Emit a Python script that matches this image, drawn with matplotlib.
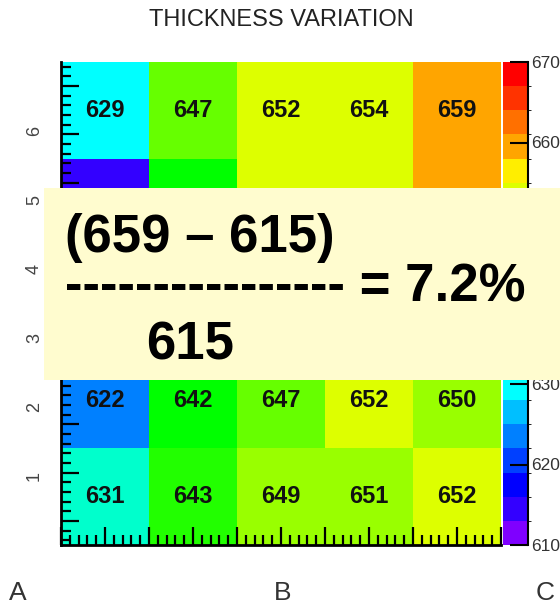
import matplotlib
matplotlib.use('Agg')
import matplotlib.pyplot as plt
import numpy as np
from matplotlib.colors import ListedColormap, BoundaryNorm
from matplotlib.patches import Rectangle
from matplotlib.ticker import FixedLocator, MultipleLocator

plt.rcParams['font.family'] = ['Liberation Sans', 'DejaVu Sans']

# thickness per cell, bottom row first
row1 = [631, 643, 649, 651, 652]
row2 = [622, 642, 647, 652, 650]
row3 = [620, 639, 648, 650, 651]
row4 = [615, 641, 653, 654, 658]
row5 = [629, 647, 652, 654, 659]
rows = [row1, row2, row3, row4, row5]
labelled = [0, 1, 4]  # rows 3 and 4 sit under the note box

y_labels = [1, 2, 3, 4, 5, 6]
cbar_ticks = [610, 620, 630, 640, 650, 660, 670]
levels = np.arange(610, 671, 3)
palette = ['#7f00ff', '#3300ff', '#0000ff', '#0040ff', '#0080ff',
           '#00bfff', '#00ffff', '#00ffcc', '#00ff80', '#00ff40',
           '#00ff00', '#22ff00', '#66ff00', '#99ff00', '#ddff00',
           '#ffee00', '#ffa500', '#ff7000', '#ff3300', '#ff0000']

W, H = 560, 604
fig = plt.figure(figsize=(W / 100, H / 100), dpi=100)

def px(x0, y0, w, h):
    return [x0 / W, 1 - (y0 + h) / H, w / W, h / H]

ax = fig.add_axes(px(61, 62, 440, 483))
cax = fig.add_axes(px(503, 62, 25, 483))

cmap = ListedColormap(palette)
norm = BoundaryNorm(levels, cmap.N)

z = np.array(rows)
xe = np.arange(z.shape[1] + 1)
ye = np.linspace(0, 7, z.shape[0] + 1)
mesh = ax.pcolormesh(xe, ye, z, cmap=cmap, norm=norm)

for i in labelled:
    for j, v in enumerate(rows[i]):
        ax.text(j + 0.5, (ye[i] + ye[i + 1]) / 2, str(v), ha='center', va='center',
                fontsize=17, fontweight='bold', color='#111111')

ax.set_xlim(0, 5)
ax.set_ylim(0, 7)
for s in ('top', 'right'):
    ax.spines[s].set_visible(False)
for s in ('left', 'bottom'):
    ax.spines[s].set_linewidth(2)

ax.xaxis.set_major_locator(MultipleLocator(0.5))
ax.xaxis.set_minor_locator(MultipleLocator(0.1))
ax.yaxis.set_major_locator(FixedLocator(np.arange(0.35, 7, 0.7)))
ax.yaxis.set_minor_locator(FixedLocator(np.arange(0.07, 7, 0.14)))
ax.tick_params(which='major', direction='in', length=13, width=1.6,
               labelbottom=False, labelleft=False)
ax.tick_params(which='minor', direction='in', length=7, width=1.6)

ylab = ax.secondary_yaxis('left')
ylab.set_yticks(y_labels)
ylab.tick_params(length=0, pad=13, labelsize=13, labelcolor='#444444')
for t in ylab.get_yticklabels():
    t.set_rotation(90)
    t.set_va('center')
ylab.spines['left'].set_visible(False)

cb = fig.colorbar(mesh, cax=cax, ticks=cbar_ticks)
cb.outline.set_visible(False)
cax.spines['right'].set_visible(True)
cax.spines['right'].set_linewidth(1.5)
cax.tick_params(direction='in', length=13, width=1.5, labelsize=12.5,
                labelcolor='#333333', pad=2)

fig.text(281 / W, 1 - 20 / H, 'THICKNESS VARIATION', ha='center', va='center',
         fontsize=17, color='#222222')

for lab, xp in zip(['A', 'B', 'C'], [18, 283, 545]):
    fig.text(xp / W, 1 - 593 / H, lab, ha='center', va='center',
             fontsize=19, color='#333333')

# note box laid over the middle rows
fig.add_artist(Rectangle((44 / W, 1 - 380 / H), (W - 44) / W, 192 / H,
                         transform=fig.transFigure, facecolor='#fffccf',
                         edgecolor='none', zorder=5))
note = dict(fontsize=38, fontweight='bold', color='black', zorder=6)
fig.text(65 / W, 1 - 252 / H, '(659 – 615)', ha='left', va='baseline', **note)
fig.text(65 / W, 1 - 302 / H, '-' * 16 + ' = 7.2%', ha='left', va='baseline', **note)
fig.text(190 / W, 1 - 360 / H, '615', ha='center', va='baseline', **note)

fig.savefig('out.png', dpi=100)
